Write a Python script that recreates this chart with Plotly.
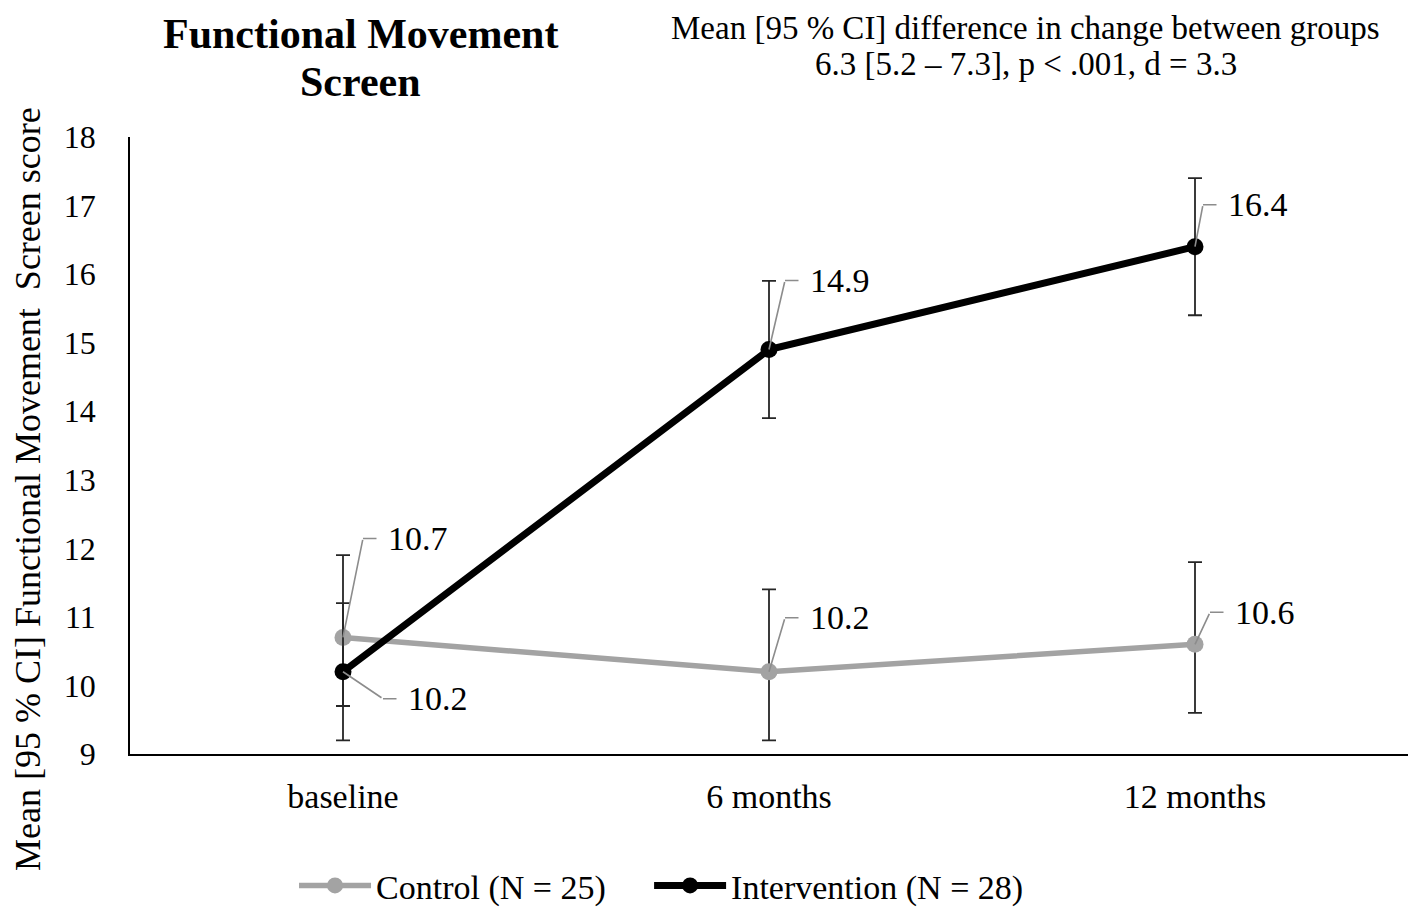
import plotly.graph_objects as go

# data
time_points = ["baseline", "6 months", "12 months"]
control_mean = [10.7, 10.2, 10.6]
control_ci_up = [1.2, 1.2, 1.2]
control_ci_down = [1.0, 1.0, 1.0]
interv_mean = [10.2, 14.9, 16.4]
interv_ci_up = [1.0, 1.0, 1.0]
interv_ci_down = [1.0, 1.0, 1.0]

serif = "Liberation Serif, Times New Roman, serif"

fig = go.Figure()

fig.add_trace(go.Scatter(
    x=time_points, y=control_mean, name="Control (N = 25)",
    mode="lines+markers", legend="legend",
    line=dict(color="#a3a3a3", width=5.5),
    marker=dict(color="#a3a3a3", size=17),
    error_y=dict(type="data", symmetric=False, array=control_ci_up,
                 arrayminus=control_ci_down, color="#262626",
                 thickness=1.8, width=7),
))
fig.add_trace(go.Scatter(
    x=time_points, y=interv_mean, name="Intervention (N = 28)",
    mode="lines+markers", legend="legend2",
    line=dict(color="black", width=7),
    marker=dict(color="black", size=17),
    error_y=dict(type="data", symmetric=False, array=interv_ci_up,
                 arrayminus=interv_ci_down, color="#262626",
                 thickness=1.8, width=7),
))

# value labels with elbow leader lines (pixel offset of the elbow from the point)
elbows = {
    ("c", 0): (20, -99), ("c", 1): (16, -54), ("c", 2): (15, -32),
    ("i", 0): (40, 27), ("i", 1): (16, -69), ("i", 2): (8, -42),
}
for key, means in (("c", control_mean), ("i", interv_mean)):
    for i, v in enumerate(means):
        dx, dy = elbows[(key, i)]
        # diagonal part
        fig.add_annotation(
            x=time_points[i], y=v, text="", showarrow=True, arrowhead=0,
            arrowwidth=1.6, arrowcolor="#8c8c8c", ax=dx, ay=dy, standoff=0,
        )
        # horizontal part + label
        fig.add_annotation(
            x=time_points[i], y=v, xshift=dx, yshift=-dy, text=f"{v:.1f}",
            showarrow=True, arrowhead=0, arrowwidth=1.6, arrowcolor="#8c8c8c",
            ax=55, ay=0, standoff=0, borderpad=11,
            font=dict(family=serif, size=34, color="black"),
        )

# titles
fig.add_annotation(
    xref="paper", yref="paper", x=0.18, y=1.127, xanchor="center", yanchor="bottom",
    text="<b>Functional Movement</b>", showarrow=False,
    font=dict(family=serif, size=42, color="black"),
)
fig.add_annotation(
    xref="paper", yref="paper", x=0.18, y=1.049, xanchor="center", yanchor="bottom",
    text="<b>Screen</b>", showarrow=False,
    font=dict(family=serif, size=42, color="black"),
)
fig.add_annotation(
    xref="paper", yref="paper", x=0.701, y=1.144, xanchor="center", yanchor="bottom",
    text="Mean [95 % CI] difference in change between groups",
    showarrow=False, font=dict(family=serif, size=33, color="black"),
)
fig.add_annotation(
    xref="paper", yref="paper", x=0.701, y=1.086, xanchor="center", yanchor="bottom",
    text="6.3 [5.2 – 7.3], p < .001, d = 3.3",
    showarrow=False, font=dict(family=serif, size=33, color="black"),
)
# y axis title
fig.add_annotation(
    xref="paper", yref="paper", x=-0.0798, y=0.4295, xanchor="center", yanchor="middle",
    text="Mean [95 % CI] Functional Movement  Screen score", textangle=-90,
    showarrow=False, font=dict(family=serif, size=36, color="black"),
)

leg = dict(orientation="h", y=0.03, xref="container", yref="container",
           xanchor="left", yanchor="middle", itemwidth=72,
           font=dict(family=serif, size=34))

fig.update_layout(
    width=1409, height=905,
    margin=dict(l=122, r=9, t=129, b=159),
    plot_bgcolor="white", paper_bgcolor="white",
    font=dict(family=serif, size=31, color="black"),
    showlegend=True,
    legend=dict(leg, x=0.203),
    legend2=dict(leg, x=0.455),
    xaxis=dict(showline=True, linecolor="black", linewidth=1.5, automargin=False,
               showgrid=False, ticks="outside", ticklen=11, tickcolor="white",
               range=[-0.5, 2.5], tickfont=dict(size=34)),
    yaxis=dict(showline=True, linecolor="black", linewidth=1.5, showgrid=False,
               automargin=False, zeroline=False, range=[9, 18], dtick=1,
               ticks="outside", ticklen=26, tickcolor="white",
               tickfont=dict(size=32)),
)

fig.write_html("out.html")
